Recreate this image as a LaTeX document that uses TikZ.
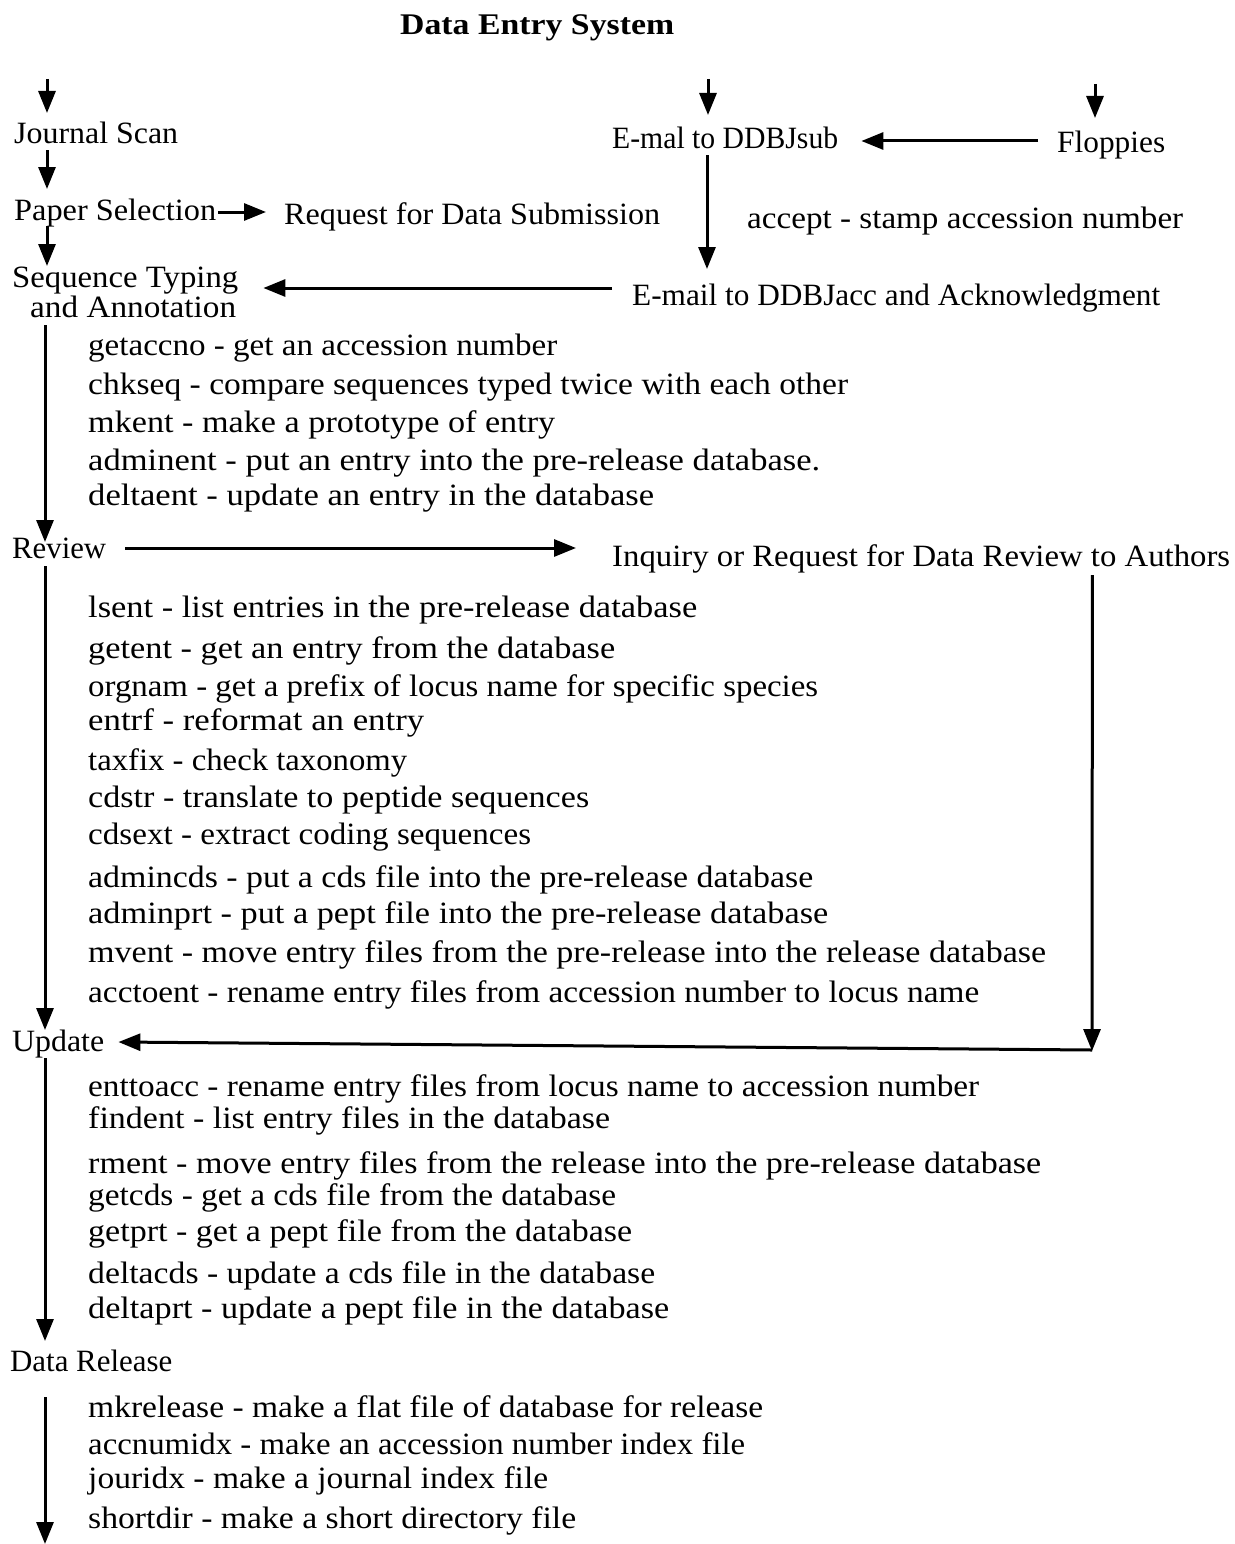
\documentclass[tikz,border=0pt]{standalone}
\usepackage{fontspec}
\usepackage{graphicx}
\setmainfont{Liberation Serif}
\usetikzlibrary{arrows.meta,calc}
\newsavebox\fitbox
\newcommand\fitw[2]{\sbox\fitbox{#2}\pgfmathsetmacro\fitfac{#1/\the\wd\fitbox}\scalebox{\fitfac}[1]{\usebox\fitbox}}
\tikzset{
  lbl/.style={anchor=base west, inner sep=0pt, font=\fontsize{31}{36}\selectfont},
  ttl/.style={anchor=base west, inner sep=0pt, font=\fontsize{30}{36}\selectfont\bfseries},
  arr/.style={line width=3pt, -{Triangle[length=22pt,width=17pt]}},
  ln/.style={line width=3pt}
}
\begin{document}
\begin{tikzpicture}[x=1pt,y=-1pt]
\useasboundingbox (0,0) rectangle (1234,1544);
% title
\node[ttl] (title) at (400,35) {\fitw{274}{Data Entry System}};
% left column
\node[lbl] (js)  at (14,143) {\fitw{164}{Journal Scan}};
\node[lbl] (ps)  at (14,220) {\fitw{202}{Paper Selection}};
\node[lbl] (req) at (284,224) {\fitw{376}{Request for Data Submission}};
\node[lbl] (seq1) at (12,287) {\fitw{226}{Sequence Typing}};
\node[lbl] (seq2) at (30,317) {\fitw{206}{and Annotation}};
% right top
\node[lbl] (em1) at (612,148) {\fitw{226}{E-mal to DDBJsub}};
\node[lbl] (fl)  at (1057,153) {\fitw{108}{Floppies}};
\node[lbl] (acc) at (747,228) {\fitw{436}{accept - stamp accession number}};
\node[lbl] (em2) at (632,305) {\fitw{528}{E-mail to DDBJacc and Acknowledgment}};
% typing tools
\node[lbl] (c1) at (88,355) {\fitw{469}{getaccno - get an accession number}};
\node[lbl] (c2) at (88,394) {\fitw{760}{chkseq - compare sequences typed twice with each other}};
\node[lbl] (c3) at (88,432) {\fitw{467}{mkent - make a prototype of entry}};
\node[lbl] (c4) at (88,470) {\fitw{732}{adminent - put an entry into the pre-release database.}};
\node[lbl] (c5) at (88,505) {\fitw{566}{deltaent - update an entry in the database}};
% review
\node[lbl] (rev) at (12,558) {\fitw{94}{Review}};
\node[lbl] (inq) at (612,566) {\fitw{618}{Inquiry or Request for Data Review to Authors}};
\node[lbl] (r1) at (88,617) {\fitw{609}{lsent - list entries in the pre-release database}};
\node[lbl] (r2) at (88,658) {\fitw{527}{getent - get an entry from the database}};
\node[lbl] (r3) at (88,696) {\fitw{730}{orgnam - get a prefix of locus name for specific species}};
\node[lbl] (r4) at (88,730) {\fitw{336}{entrf - reformat an entry}};
\node[lbl] (r5) at (88,770) {\fitw{319}{taxfix - check taxonomy}};
\node[lbl] (r6) at (88,807) {\fitw{501}{cdstr - translate to peptide sequences}};
\node[lbl] (r7) at (88,844) {\fitw{443}{cdsext - extract coding sequences}};
\node[lbl] (r8) at (88,887) {\fitw{725}{admincds - put a cds file into the pre-release database}};
\node[lbl] (r9) at (88,923) {\fitw{740}{adminprt - put a pept file into the pre-release database}};
\node[lbl] (r10) at (88,962) {\fitw{958}{mvent - move entry files from the pre-release into the release database}};
\node[lbl] (r11) at (88,1002) {\fitw{891}{acctoent - rename entry files from accession number to locus name}};
% update
\node[lbl] (upd) at (12,1051) {\fitw{92}{Update}};
\node[lbl] (u1) at (88,1096) {\fitw{891}{enttoacc - rename entry files from locus name to accession number}};
\node[lbl] (u2) at (88,1128) {\fitw{522}{findent - list entry files in the database}};
\node[lbl] (u3) at (88,1173) {\fitw{953}{rment - move entry files from the release into the pre-release database}};
\node[lbl] (u4) at (88,1205) {\fitw{528}{getcds - get a cds file from the database}};
\node[lbl] (u5) at (88,1241) {\fitw{544}{getprt - get a pept file from the database}};
\node[lbl] (u6) at (88,1283) {\fitw{567}{deltacds - update a cds file in the database}};
\node[lbl] (u7) at (88,1318) {\fitw{581}{deltaprt - update a pept file in the database}};
% data release
\node[lbl] (dr) at (10,1371) {\fitw{162}{Data Release}};
\node[lbl] (d1) at (88,1417) {\fitw{675}{mkrelease - make a flat file of database for release}};
\node[lbl] (d2) at (88,1454) {\fitw{657}{accnumidx - make an accession number index file}};
\node[lbl] (d3) at (88,1488) {\fitw{460}{jouridx - make a journal index  file}};
\node[lbl] (d4) at (88,1528) {\fitw{488}{shortdir - make a short directory file}};
% free ends
\coordinate (inL) at (47,79);
\coordinate (inM) at (708,79);
\coordinate (inR) at (1095,84);
\coordinate (corner) at (1092,1050);
\coordinate (outB) at (45,1544);
% connectors
\draw[arr] (inL) -- ($(js.base west)+(33,-30)$);
\draw[arr] ($(js.base west)+(33,7)$) -- ($(ps.base west)+(33,-31)$);
\draw[arr] ($(ps.base east)+(2,-8)$) -- ($(req.base west)+(-18,-12)$);
\draw[arr] ($(ps.base west)+(33,6)$) -- ($(seq1.base west)+(35,-21)$);
\draw[arr] ($(em2.base west)+(-20,-17)$) -- ($(seq1.base east)+(25,1)$);
\draw[arr] ($(seq2.base west)+(15,8)$) -- ($(rev.base west)+(33,-16)$);
\draw[arr] ($(rev.base east)+(19,-10)$) -- ($(inq.base west)+(-36,-18)$);
\draw[arr] ($(rev.base west)+(33,8)$) -- ($(upd.base west)+(33,-21)$);
\draw[arr] ($(inq.base east)+(-138,9)$) -- ($(corner)+(0,1)$);
\draw[arr] (corner) -- ($(upd.base east)+(14,-9)$);
\draw[arr] ($(upd.base west)+(33,7)$) -- ($(dr.base west)+(35,-30)$);
\draw[arr] ($(dr.base west)+(35,26)$) -- (outB);
\draw[arr] (inM) -- ($(em1.base west)+(96,-33)$);
\draw[arr] (inR) -- ($(fl.base west)+(38,-35)$);
\draw[arr] ($(fl.base west)+(-19,-12)$) -- ($(em1.base east)+(23,-7)$);
\draw[arr] ($(em1.base west)+(95,7)$) -- ($(em2.base west)+(75,-36)$);
\end{tikzpicture}
\end{document}
